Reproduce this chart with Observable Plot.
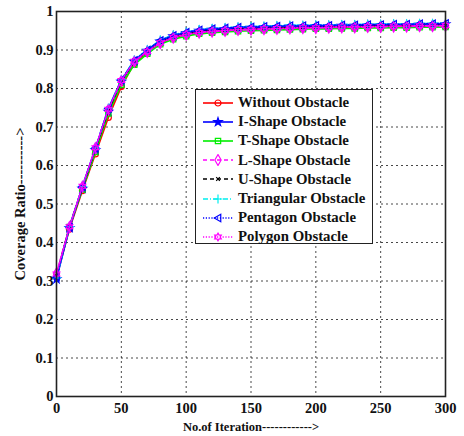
<!DOCTYPE html>
<html>
<head>
<meta charset="utf-8">
<script src="https://cdn.jsdelivr.net/npm/d3@7"></script>
<script src="https://cdn.jsdelivr.net/npm/@observablehq/plot@0.6"></script>
<style>
  html, body { margin: 0; padding: 0; background: #fff; }
  #wrap { position: relative; width: 464px; height: 436px; }
  #legend {
    position: absolute; left: 195px; top: 89px; width: 178px; height: 155px;
    border: 1.5px solid #222; background: #fff; box-sizing: border-box;
    font-family: "Liberation Serif", "DejaVu Serif", serif; font-weight: bold; font-size: 14.8px;
    padding-top: 3px; color: #111; white-space: nowrap;
  }
  #legend .row { display: flex; align-items: center; height: 19.2px; }
  #legend svg { margin-left: 6px; margin-right: 4px; flex: none; }
</style>
</head>
<body>
<div id="wrap"></div>
<script>
// ---- data ----
const iterations = [0,10,20,30,40,50,60,70,80,90,100,110,120,130,140,150,160,170,180,190,200,210,220,230,240,250,260,270,280,290,300];

const withoutObstacle = [0.310,0.435,0.535,0.630,0.725,0.805,0.865,0.895,0.918,0.932,0.940,0.946,0.949,0.951,0.953,0.954,0.955,0.956,0.957,0.957,0.958,0.959,0.959,0.960,0.960,0.961,0.961,0.962,0.962,0.963,0.963];
const iShape          = [0.305,0.438,0.540,0.640,0.740,0.818,0.870,0.898,0.922,0.936,0.944,0.950,0.953,0.955,0.957,0.958,0.959,0.960,0.961,0.961,0.962,0.962,0.963,0.963,0.964,0.964,0.965,0.965,0.966,0.966,0.967];
const tShape          = [0.315,0.440,0.538,0.635,0.735,0.810,0.862,0.890,0.915,0.928,0.936,0.942,0.945,0.947,0.949,0.950,0.951,0.952,0.953,0.954,0.955,0.955,0.956,0.956,0.957,0.957,0.958,0.958,0.959,0.959,0.960];
const lShape          = [0.320,0.440,0.545,0.645,0.745,0.820,0.870,0.895,0.918,0.932,0.940,0.945,0.948,0.950,0.952,0.953,0.954,0.955,0.956,0.957,0.957,0.958,0.959,0.959,0.960,0.960,0.961,0.961,0.962,0.962,0.963];
const uShape          = [0.312,0.442,0.543,0.643,0.743,0.819,0.871,0.897,0.920,0.934,0.942,0.947,0.950,0.952,0.954,0.955,0.956,0.957,0.958,0.959,0.959,0.960,0.961,0.961,0.962,0.962,0.963,0.963,0.964,0.964,0.965];
const triangular      = [0.308,0.441,0.546,0.646,0.749,0.823,0.874,0.901,0.926,0.939,0.947,0.953,0.956,0.958,0.960,0.961,0.962,0.963,0.964,0.964,0.965,0.965,0.966,0.966,0.967,0.967,0.968,0.968,0.969,0.969,0.970];
const pentagon        = [0.310,0.440,0.545,0.645,0.748,0.822,0.873,0.900,0.925,0.938,0.946,0.952,0.955,0.957,0.959,0.960,0.961,0.962,0.963,0.963,0.964,0.964,0.965,0.965,0.966,0.966,0.967,0.967,0.968,0.968,0.969];
const polygon         = [0.318,0.441,0.546,0.646,0.746,0.821,0.871,0.896,0.919,0.933,0.941,0.946,0.949,0.951,0.953,0.954,0.955,0.956,0.957,0.958,0.958,0.959,0.960,0.960,0.961,0.961,0.962,0.962,0.963,0.963,0.964];

const seriesNames = ["Without Obstacle","I-Shape Obstacle","T-Shape Obstacle","L-Shape Obstacle","U-Shape Obstacle","Triangular Obstacle","Pentagon Obstacle","Polygon Obstacle"];
const seriesValues = [withoutObstacle, iShape, tShape, lShape, uShape, triangular, pentagon, polygon];

const xTicks = [0,50,100,150,200,250,300];
const yTicks = [0,0.1,0.2,0.3,0.4,0.5,0.6,0.7,0.8,0.9,1];
const xLabel = "No.of Iteration------------>";
const yLabel = "Coverage Ratio---------->";

// ---- custom symbols ----
const triLeft = {
  draw(ctx, size) {
    const r = Math.sqrt(size / Math.PI) * 1.15;
    ctx.moveTo(-r, 0);
    ctx.lineTo(r * 0.75, -r);
    ctx.lineTo(r * 0.75, r);
    ctx.closePath();
  }
};
const hexagram = {
  draw(ctx, size) {
    const R = Math.sqrt(size / Math.PI) * 1.2, ri = R * 0.58;
    for (let i = 0; i < 12; i++) {
      const a = -Math.PI / 2 + i * Math.PI / 6;
      const rr = i % 2 === 0 ? R : ri;
      const px = rr * Math.cos(a), py = rr * Math.sin(a);
      if (i === 0) ctx.moveTo(px, py); else ctx.lineTo(px, py);
    }
    ctx.closePath();
  }
};

// ---- styles ----
const styles = [
  {stroke: "#ff0000", dash: null,        symbol: "circle",  r: 3,   fill: "none"},
  {stroke: "#0000ff", dash: null,        symbol: "star",    r: 2.6, fill: "#0000ff"},
  {stroke: "#00ee00", dash: null,        symbol: "square",  r: 3,   fill: "none"},
  {stroke: "#ff00ff", dash: "4,3",       symbol: "diamond", r: 3.3, fill: "none"},
  {stroke: "#000000", dash: "4,3",       symbol: "times",   r: 1.8, fill: "none"},
  {stroke: "#00eeee", dash: "5,2,1,2",   symbol: "plus",    r: 3,   fill: "none"},
  {stroke: "#0000ff", dash: "1.2,1.6",   symbol: triLeft,   r: 3.2, fill: "none"},
  {stroke: "#ff00ff", dash: "1.2,1.6",   symbol: hexagram,  r: 3.2, fill: "none"}
];

const rows = [];
seriesNames.forEach((name, k) => {
  iterations.forEach((it, i) => rows.push({series: name, k, x: it, y: seriesValues[k][i]}));
});

const marks = [
  Plot.gridX(xTicks.filter(d => d > 0 && d < 300), {stroke: "#000", strokeOpacity: 0.9, strokeDasharray: "2,3", strokeWidth: 0.8}),
  Plot.gridY(yTicks.filter(d => d > 0 && d < 1), {stroke: "#000", strokeOpacity: 0.9, strokeDasharray: "2,3", strokeWidth: 0.8}),
];
seriesNames.forEach((name, k) => {
  const st = styles[k];
  const data = rows.filter(d => d.k === k);
  marks.push(Plot.line(data, {x: "x", y: "y", stroke: st.stroke, strokeWidth: 1.6, strokeDasharray: st.dash || undefined}));
  marks.push(Plot.dot(data, {x: "x", y: "y", stroke: st.stroke, fill: st.fill, symbol: st.symbol, r: st.r, strokeWidth: 1.2}));
});
marks.push(Plot.frame({stroke: "#222", strokeWidth: 1.6}));
marks.push(Plot.axisX(xTicks, {tickSize: 0, tickPadding: 6, fontSize: 14.5, fontWeight: "bold",
  label: xLabel, labelAnchor: "center", labelArrow: "none", labelOffset: 34}));
marks.push(Plot.axisY(yTicks, {tickSize: 0, tickPadding: 3, fontSize: 14.5, fontWeight: "bold",
  tickFormat: d => String(d),
  label: yLabel, labelAnchor: "center", labelArrow: "none", labelOffset: 42}));

const chart = Plot.plot({
  width: 464,
  height: 436,
  marginTop: 11,
  marginRight: 19,
  marginBottom: 40,
  marginLeft: 56,
  style: {fontFamily: "'Liberation Serif', 'DejaVu Serif', serif", fontSize: "13px", color: "#111", background: "#fff"},
  x: {domain: [0, 300]},
  y: {domain: [0, 1]},
  marks
});
chart.style.fontWeight = "bold";
// axis title sizes
d3.select(chart).selectAll("text")
  .filter(function() { return this.textContent === xLabel; })
  .style("font-size", "12.5px").style("font-weight", "bold");
d3.select(chart).selectAll("text")
  .filter(function() { return this.textContent === yLabel; })
  .style("font-size", "14.5px").style("font-weight", "bold");
const wrap = document.getElementById("wrap");
wrap.appendChild(chart);

// ---- legend ----
const legend = document.createElement("div");
legend.id = "legend";
const symMap = {circle: d3.symbolCircle, star: d3.symbolStar, square: d3.symbolSquare, diamond: d3.symbolDiamond, times: d3.symbolTimes, plus: d3.symbolPlus};
seriesNames.forEach((name, k) => {
  const st = styles[k];
  const row = document.createElement("div");
  row.className = "row";
  const svg = d3.create("svg").attr("width", 32).attr("height", 12);
  svg.append("line").attr("x1", 1).attr("x2", 31).attr("y1", 6).attr("y2", 6)
    .attr("stroke", st.stroke).attr("stroke-width", 1.6).attr("stroke-dasharray", st.dash);
  const symType = typeof st.symbol === "string" ? symMap[st.symbol] : st.symbol;
  svg.append("path").attr("transform", "translate(16,6)")
    .attr("d", d3.symbol(symType, st.r * st.r * Math.PI)())
    .attr("stroke", st.stroke).attr("fill", st.fill).attr("stroke-width", 1.2);
  row.appendChild(svg.node());
  const span = document.createElement("span");
  span.textContent = name;
  row.appendChild(span);
  legend.appendChild(row);
});
wrap.appendChild(legend);
</script>
</body>
</html>
